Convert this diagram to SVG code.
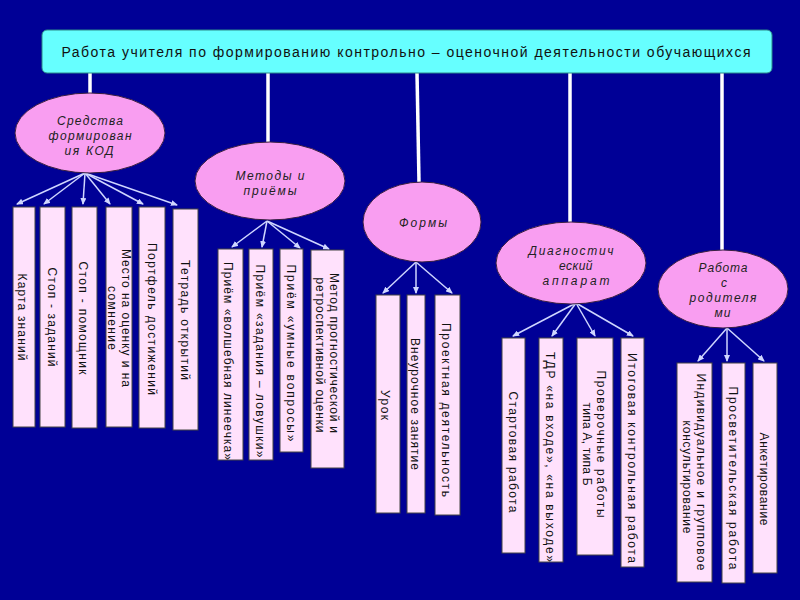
<svg xmlns="http://www.w3.org/2000/svg" width="800" height="600" viewBox="0 0 800 600">
<style>
.title{fill:#66ffff;stroke:#2a8a8a;stroke-width:1}
.tt{font-family:"Liberation Sans",Arial,sans-serif;font-size:14px;fill:#111;text-anchor:middle}
.el{fill:#f99ef1;stroke:#3a2040;stroke-width:1}
.et{font-family:"Liberation Sans",Arial,sans-serif;font-size:12px;font-style:italic;fill:#222;text-anchor:middle}
.bx{fill:#ffe1fc;stroke:#444;stroke-width:1}
.bt{font-family:"Liberation Sans",Arial,sans-serif;font-size:12px;fill:#111;text-anchor:middle}
.trunk{stroke:#ffffff;stroke-width:3.5;fill:none}
.arr{stroke:#cfd6ff;stroke-width:1.5;fill:none;marker-end:url(#ah)}
</style>
<defs>
<marker id="ah" markerUnits="userSpaceOnUse" markerWidth="7" markerHeight="6" refX="6" refY="3" orient="auto">
<path d="M0,0 L7,3 L0,6 z" fill="#cfd6ff"/>
</marker>
</defs>
<rect x="0" y="0" width="800" height="600" fill="#000096"/>

<g id="connectors">
<line class="trunk" x1="90" y1="73" x2="90" y2="93"/>
<line class="trunk" x1="268" y1="73" x2="268" y2="142"/>
<line class="trunk" x1="417" y1="73" x2="419" y2="182"/>
<line class="trunk" x1="570" y1="73" x2="570" y2="222"/>
<line class="trunk" x1="722" y1="73" x2="722" y2="250"/>

<line class="arr" x1="85" y1="173" x2="17" y2="204"/>
<line class="arr" x1="85" y1="173" x2="44" y2="204"/>
<line class="arr" x1="85" y1="173" x2="83" y2="204"/>
<line class="arr" x1="85" y1="173" x2="110" y2="204"/>
<line class="arr" x1="85" y1="173" x2="143" y2="204"/>
<line class="arr" x1="85" y1="173" x2="177" y2="205"/>

<line class="arr" x1="267" y1="221" x2="232" y2="247"/>
<line class="arr" x1="267" y1="221" x2="262" y2="247"/>
<line class="arr" x1="267" y1="221" x2="300" y2="248"/>
<line class="arr" x1="267" y1="221" x2="329" y2="249"/>

<line class="arr" x1="416" y1="262" x2="383" y2="293"/>
<line class="arr" x1="416" y1="262" x2="416" y2="293"/>
<line class="arr" x1="416" y1="262" x2="452" y2="293"/>

<line class="arr" x1="576" y1="303" x2="513" y2="336"/>
<line class="arr" x1="576" y1="303" x2="552" y2="336"/>
<line class="arr" x1="576" y1="303" x2="595" y2="336"/>
<line class="arr" x1="576" y1="303" x2="633" y2="336"/>

<line class="arr" x1="727" y1="328" x2="698" y2="361"/>
<line class="arr" x1="727" y1="328" x2="727" y2="361"/>
<line class="arr" x1="727" y1="328" x2="764" y2="361"/>
</g>

<g id="title">
<rect class="title" x="42" y="30" width="730" height="43" rx="5"/>
<text class="tt" x="406" y="57" textLength="689" lengthAdjust="spacing">Работа учителя по формированию контрольно – оценочной деятельности обучающихся</text>
</g>

<g id="n-sredstva">
<ellipse class="el" cx="90" cy="133" rx="75" ry="40"/>
<text class="et" x="90" y="125" textLength="66" lengthAdjust="spacing">Средства</text>
<text class="et" x="90" y="140" textLength="83" lengthAdjust="spacing">формирован</text>
<text class="et" x="89" y="155" textLength="49" lengthAdjust="spacing">ия КОД</text>
</g>
<g id="n-metody">
<ellipse class="el" cx="270" cy="181" rx="75" ry="39"/>
<text class="et" x="270" y="180" textLength="69" lengthAdjust="spacing">Методы и</text>
<text class="et" x="270" y="195" textLength="53" lengthAdjust="spacing">приёмы</text>
</g>
<g id="n-formy">
<ellipse class="el" cx="422" cy="222" rx="59" ry="40"/>
<text class="et" x="423" y="227" textLength="48" lengthAdjust="spacing">Формы</text>
</g>
<g id="n-diag">
<ellipse class="el" cx="571" cy="263" rx="75" ry="41"/>
<text class="et" x="571" y="255" textLength="85" lengthAdjust="spacing">Диагностич</text>
<text class="et" x="576" y="270" letter-spacing="0.5">еский</text>
<text class="et" x="576" y="285" textLength="67" lengthAdjust="spacing">аппарат</text>
</g>
<g id="n-roditeli">
<ellipse class="el" cx="723" cy="289" rx="65" ry="39"/>
<text class="et" x="723" y="272" textLength="49" lengthAdjust="spacing">Работа</text>
<text class="et" x="724" y="287">с</text>
<text class="et" x="723" y="302" textLength="67" lengthAdjust="spacing">родителя</text>
<text class="et" x="723" y="317" letter-spacing="1">ми</text>
</g>

<g id="b-karta"><rect class="bx" x="13" y="207" width="22" height="220"/>
<text class="bt" transform="translate(18,317) rotate(90)" textLength="87" lengthAdjust="spacing">Карта знаний</text></g>
<g id="b-stop-zad"><rect class="bx" x="40" y="207" width="25" height="220"/>
<text class="bt" transform="translate(48,317) rotate(90)" textLength="99" lengthAdjust="spacing">Стоп - заданий</text></g>
<g id="b-stop-pom"><rect class="bx" x="72" y="207" width="25" height="221"/>
<text class="bt" transform="translate(79,318) rotate(90)" textLength="113" lengthAdjust="spacing">Стоп - помощник</text></g>
<g id="b-mesto"><rect class="bx" x="106" y="207" width="26" height="220"/>
<text class="bt" transform="translate(122,318) rotate(90)" textLength="138" lengthAdjust="spacing">Место на оценку и на</text>
<text class="bt" transform="translate(108,318) rotate(90)" textLength="64" lengthAdjust="spacing">сомнение</text></g>
<g id="b-portfel"><rect class="bx" x="139" y="207" width="26" height="221"/>
<text class="bt" transform="translate(148,319) rotate(90)" textLength="152" lengthAdjust="spacing">Портфель достижений</text></g>
<g id="b-tetrad"><rect class="bx" x="173" y="209" width="25" height="221"/>
<text class="bt" transform="translate(181,320) rotate(90)" textLength="120" lengthAdjust="spacing">Тетрадь открытий</text></g>

<g id="b-lineechka"><rect class="bx" x="218" y="249" width="25" height="211"/>
<text class="bt" transform="translate(224,361) rotate(90)" textLength="198" lengthAdjust="spacing">Приём «волшебная линеечка»</text></g>
<g id="b-lovushki"><rect class="bx" x="249" y="249" width="24" height="211"/>
<text class="bt" transform="translate(256,361) rotate(90)" textLength="193" lengthAdjust="spacing">Приём «задания – ловушки»</text></g>
<g id="b-voprosy"><rect class="bx" x="280" y="249" width="23" height="203"/>
<text class="bt" transform="translate(287,353) rotate(90)" textLength="177" lengthAdjust="spacing">Приём «умные вопросы»</text></g>
<g id="b-metod"><rect class="bx" x="311" y="250" width="33" height="218"/>
<text class="bt" transform="translate(330,353) rotate(90)" textLength="160" lengthAdjust="spacing">Метод прогностической и</text>
<text class="bt" transform="translate(316,355) rotate(90)" textLength="155" lengthAdjust="spacing">ретроспективной оценки</text></g>

<g id="b-urok"><rect class="bx" x="376" y="295" width="24" height="218"/>
<text class="bt" transform="translate(381,405) rotate(90)" textLength="30" lengthAdjust="spacing">Урок</text></g>
<g id="b-vneuroch"><rect class="bx" x="407" y="295" width="18" height="218"/>
<text class="bt" transform="translate(411,404) rotate(90)" textLength="132" lengthAdjust="spacing">Внеурочное занятие</text></g>
<g id="b-proekt"><rect class="bx" x="435" y="295" width="25" height="220"/>
<text class="bt" transform="translate(442,410) rotate(90)" textLength="174" lengthAdjust="spacing">Проектная деятельность</text></g>

<g id="b-start"><rect class="bx" x="502" y="338" width="23" height="215"/>
<text class="bt" transform="translate(509,452) rotate(90)" textLength="121" lengthAdjust="spacing">Стартовая работа</text></g>
<g id="b-tdr"><rect class="bx" x="539" y="338" width="24" height="224"/>
<text class="bt" transform="translate(546,457) rotate(90)" textLength="210" lengthAdjust="spacing">ТДР «на входе», «на выходе»</text></g>
<g id="b-proverka"><rect class="bx" x="577" y="338" width="36" height="217"/>
<text class="bt" transform="translate(597,444) rotate(90)" textLength="147" lengthAdjust="spacing">Проверочные работы</text>
<text class="bt" transform="translate(583,444) rotate(90)" textLength="83" lengthAdjust="spacing">типа А, типа Б</text></g>
<g id="b-itog"><rect class="bx" x="621" y="338" width="23" height="229"/>
<text class="bt" transform="translate(628,458) rotate(90)" textLength="210" lengthAdjust="spacing">Итоговая контрольная работа</text></g>

<g id="b-konsult"><rect class="bx" x="677" y="363" width="35" height="219"/>
<text class="bt" transform="translate(697,472) rotate(90)" textLength="197" lengthAdjust="spacing">Индивидуальное и групповое</text>
<text class="bt" transform="translate(683,477) rotate(90)" textLength="113" lengthAdjust="spacing">консультирование</text></g>
<g id="b-prosvet"><rect class="bx" x="722" y="363" width="23" height="220"/>
<text class="bt" transform="translate(729,478) rotate(90)" textLength="183" lengthAdjust="spacing">Просветительская работа</text></g>
<g id="b-anketa"><rect class="bx" x="753" y="363" width="24" height="210"/>
<text class="bt" transform="translate(760,479) rotate(90)" textLength="93" lengthAdjust="spacing">Анкетирование</text></g>
</svg>
